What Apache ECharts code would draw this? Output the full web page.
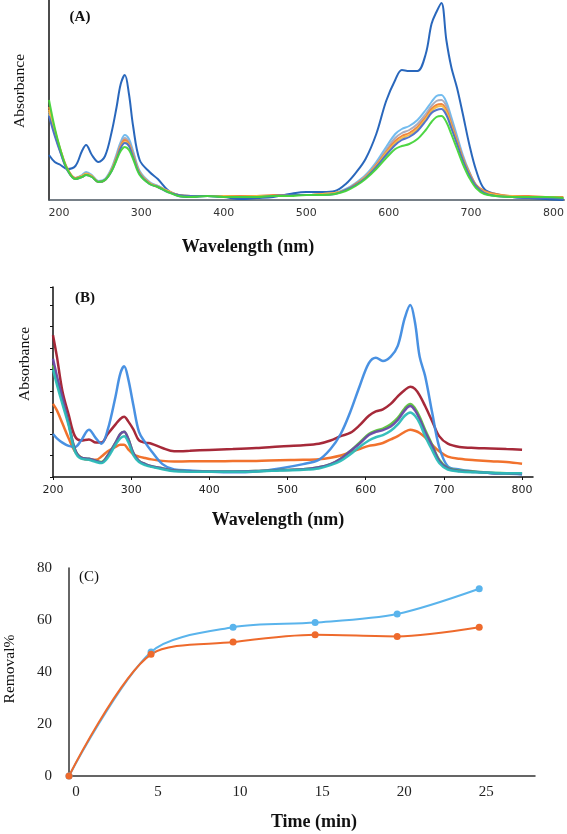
<!DOCTYPE html>
<html><head><meta charset="utf-8">
<script src="https://cdn.jsdelivr.net/npm/echarts@6/dist/echarts.min.js"></script>
<style>html,body{margin:0;padding:0;background:#fff}#c{width:567px;height:834px}</style>
</head><body><div id="c"></div>
<script>
// ---------- Panel A ----------
const wlA = [188,195,202,210,220,228,233,240,248,256,264,270,275,280,285,290,298,310,320,332,345,360,380,400,420,440,460,480,500,520,535,548,560,572,585,597,608,616,625,635,645,652,658,664,670,676,683,690,698,706,716,730,750,770,790,812];
const aDarkBlue = [0.45,0.38,0.35,0.31,0.34,0.49,0.55,0.45,0.38,0.44,0.68,0.93,1.16,1.25,1.06,0.74,0.40,0.28,0.21,0.10,0.04,0.03,0.04,0.03,0.01,0.02,0.03,0.06,0.08,0.08,0.09,0.16,0.27,0.41,0.66,0.99,1.20,1.30,1.29,1.29,1.46,1.76,1.88,1.97,1.60,1.33,1.12,0.86,0.55,0.30,0.11,0.06,0.03,0.02,0.01,0.00];
const aLightBlue = [0.86,0.66,0.48,0.31,0.22,0.25,0.28,0.25,0.19,0.21,0.32,0.46,0.58,0.65,0.61,0.49,0.29,0.18,0.14,0.09,0.05,0.04,0.04,0.04,0.03,0.04,0.04,0.05,0.05,0.06,0.07,0.11,0.17,0.25,0.38,0.53,0.66,0.71,0.74,0.80,0.90,0.98,1.04,1.05,0.98,0.83,0.64,0.45,0.28,0.15,0.08,0.05,0.03,0.03,0.02,0.02];
const aGray = [0.88,0.67,0.48,0.31,0.21,0.24,0.27,0.24,0.18,0.20,0.31,0.44,0.56,0.62,0.58,0.47,0.28,0.17,0.14,0.09,0.05,0.04,0.04,0.04,0.03,0.04,0.04,0.05,0.05,0.06,0.07,0.10,0.16,0.24,0.36,0.50,0.62,0.67,0.70,0.76,0.86,0.94,0.99,1.00,0.94,0.79,0.61,0.43,0.27,0.15,0.08,0.05,0.03,0.03,0.02,0.02];
const aOrange = [0.93,0.70,0.50,0.32,0.22,0.24,0.26,0.24,0.18,0.20,0.30,0.43,0.54,0.60,0.56,0.45,0.27,0.17,0.13,0.09,0.05,0.04,0.04,0.04,0.04,0.04,0.05,0.05,0.05,0.06,0.07,0.10,0.16,0.23,0.35,0.48,0.59,0.64,0.67,0.73,0.83,0.91,0.95,0.96,0.90,0.76,0.59,0.42,0.27,0.15,0.09,0.06,0.04,0.04,0.03,0.03];
const aYellow = [0.90,0.68,0.49,0.31,0.21,0.24,0.26,0.24,0.18,0.20,0.30,0.42,0.53,0.58,0.55,0.44,0.27,0.17,0.13,0.09,0.05,0.04,0.04,0.04,0.03,0.04,0.04,0.05,0.05,0.06,0.07,0.10,0.15,0.23,0.34,0.47,0.57,0.62,0.65,0.71,0.81,0.89,0.93,0.94,0.88,0.74,0.57,0.41,0.26,0.14,0.08,0.05,0.04,0.03,0.03,0.02];
const aBlue = [0.84,0.64,0.47,0.30,0.21,0.23,0.25,0.23,0.18,0.20,0.29,0.41,0.52,0.57,0.54,0.43,0.26,0.16,0.13,0.08,0.05,0.04,0.04,0.03,0.03,0.03,0.04,0.05,0.05,0.05,0.06,0.10,0.15,0.22,0.33,0.45,0.55,0.60,0.63,0.69,0.79,0.87,0.90,0.91,0.85,0.72,0.56,0.40,0.25,0.14,0.07,0.04,0.03,0.02,0.02,0.01];
const aGreen = [1.00,0.72,0.50,0.31,0.21,0.23,0.25,0.23,0.18,0.20,0.29,0.40,0.49,0.53,0.50,0.41,0.25,0.16,0.13,0.08,0.04,0.03,0.04,0.03,0.03,0.03,0.04,0.04,0.05,0.05,0.06,0.09,0.14,0.21,0.31,0.42,0.51,0.54,0.56,0.61,0.70,0.78,0.83,0.84,0.78,0.66,0.51,0.36,0.22,0.12,0.06,0.04,0.03,0.03,0.03,0.02];
const ticksWl = [200,300,400,500,600,700,800];

// ---------- Panel B ----------
const wlB = [200,205,212,220,228,236,246,255,262,270,280,286,291,296,303,310,318,326,340,355,375,400,430,460,490,520,540,555,568,580,592,604,613,622,632,641,650,657,663,669,676,685,694,705,720,740,760,780,800];
const bBlue = [0.20,0.18,0.16,0.145,0.14,0.17,0.22,0.18,0.155,0.22,0.375,0.48,0.515,0.46,0.33,0.21,0.16,0.12,0.06,0.035,0.03,0.025,0.022,0.026,0.04,0.06,0.08,0.13,0.20,0.30,0.42,0.53,0.555,0.54,0.56,0.61,0.74,0.80,0.72,0.56,0.47,0.30,0.14,0.05,0.035,0.025,0.018,0.016,0.012];
const bDarkRed = [0.66,0.56,0.40,0.29,0.19,0.17,0.175,0.16,0.16,0.20,0.245,0.27,0.28,0.26,0.22,0.17,0.16,0.155,0.135,0.12,0.122,0.126,0.13,0.135,0.142,0.148,0.155,0.17,0.19,0.205,0.24,0.285,0.305,0.315,0.34,0.375,0.405,0.42,0.41,0.38,0.33,0.26,0.19,0.155,0.14,0.135,0.133,0.13,0.127];
const bOrange = [0.34,0.31,0.25,0.18,0.12,0.09,0.08,0.08,0.095,0.12,0.14,0.15,0.15,0.13,0.105,0.095,0.088,0.082,0.075,0.072,0.073,0.073,0.074,0.075,0.078,0.08,0.083,0.09,0.10,0.115,0.13,0.145,0.15,0.158,0.175,0.19,0.21,0.22,0.215,0.205,0.185,0.15,0.12,0.095,0.085,0.078,0.073,0.07,0.062];
const bGreen = [0.52,0.45,0.36,0.25,0.13,0.09,0.085,0.075,0.07,0.10,0.16,0.20,0.21,0.18,0.11,0.075,0.06,0.05,0.04,0.03,0.027,0.026,0.026,0.028,0.032,0.036,0.045,0.06,0.085,0.12,0.16,0.20,0.215,0.225,0.245,0.275,0.32,0.34,0.32,0.28,0.22,0.15,0.08,0.042,0.03,0.025,0.02,0.018,0.016];
const bPurple = [0.55,0.47,0.37,0.25,0.13,0.09,0.085,0.075,0.068,0.10,0.16,0.20,0.21,0.18,0.11,0.075,0.06,0.05,0.04,0.03,0.027,0.026,0.026,0.028,0.032,0.036,0.045,0.06,0.085,0.12,0.155,0.195,0.21,0.218,0.235,0.265,0.31,0.33,0.31,0.27,0.21,0.145,0.075,0.04,0.028,0.023,0.019,0.017,0.015];
const bTeal = [0.50,0.43,0.34,0.24,0.12,0.085,0.08,0.07,0.065,0.09,0.15,0.18,0.19,0.165,0.10,0.07,0.055,0.047,0.036,0.027,0.025,0.024,0.024,0.026,0.03,0.034,0.04,0.055,0.075,0.105,0.14,0.17,0.185,0.195,0.215,0.245,0.285,0.30,0.285,0.25,0.19,0.125,0.065,0.035,0.026,0.022,0.02,0.018,0.018];

// ---------- Panel C ----------
const timeMin = [0,5,10,15,20,25];
const removalBlue = [0,47.7,57.2,59.0,62.3,72.0];
const removalOrange = [0,46.8,51.5,54.3,53.7,57.2];
const ticksTime = [0,5,10,15,20,25];
const ticksRemoval = [0,20,40,60,80];

const pair = (xs, ys) => xs.map((x, i) => [x, ys[i]]);
const SERIF = '"Liberation Serif","Times New Roman",serif';

function specLine(name, xIdx, xs, ys, color, w) {
  return { name, type: 'line', xAxisIndex: xIdx, yAxisIndex: xIdx, data: pair(xs, ys),
    smooth: 0.35, showSymbol: false, symbol: 'none',
    lineStyle: { color, width: w, opacity: 0.95 }, itemStyle: { color }, z: 2 };
}

function txt(text, x, y, font, rot) {
  return { type: 'text', x, y, rotation: rot, silent: true,
    style: { text, font, fill: '#111', x: 0, y: 0, align: 'center', verticalAlign: 'middle',
      textAlign: 'center', textVerticalAlign: 'middle' } };
}

const chart = echarts.init(document.getElementById('c'), null, { renderer: 'canvas' });

const option = {
  backgroundColor: '#ffffff',
  animation: false,
  grid: [
    { left: 49, top: 0, width: 518, height: 200 },
    { left: 53, top: 287, width: 480, height: 190 },
    { left: 69, top: 568, width: 466, height: 208 }
  ],
  xAxis: [
    { gridIndex: 0, type: 'value', min: 188, max: 813,
      axisLine: { show: true, lineStyle: { color: '#4a5560', width: 1.5 } },
      axisTick: { show: false }, splitLine: { show: false },
      axisLabel: { customValues: ticksWl, formatter: v => String(v), color: '#333', fontSize: 11,
        fontFamily: 'DejaVu Sans', margin: 8, showMinLabel: true, showMaxLabel: true } },
    { gridIndex: 1, type: 'value', min: 200, max: 814,
      axisLine: { show: true, lineStyle: { color: '#111', width: 1.5 } },
      axisTick: { show: true, customValues: ticksWl, length: 3, lineStyle: { color: '#111' } },
      splitLine: { show: false },
      axisLabel: { customValues: ticksWl, formatter: v => String(v), color: '#222', fontSize: 11,
        fontFamily: 'DejaVu Sans', margin: 8 } },
    { gridIndex: 2, type: 'value', min: 0, max: 28.4,
      axisLine: { show: true, lineStyle: { color: '#333', width: 1.5 } },
      axisTick: { show: false }, splitLine: { show: false },
      axisLabel: { customValues: ticksTime, formatter: v => String(v), color: '#222', fontSize: 15,
        fontFamily: SERIF, margin: 9, padding: [0, 0, 0, 14] } }
  ],
  yAxis: [
    { gridIndex: 0, type: 'value', min: 0, max: 2.0,
      axisLine: { show: true, lineStyle: { color: '#111', width: 1.5 } },
      axisTick: { show: false }, axisLabel: { show: false }, splitLine: { show: false } },
    { gridIndex: 1, type: 'value', min: 0, max: 0.884, interval: 0.1,
      axisLine: { show: true, lineStyle: { color: '#111', width: 1.5 } },
      axisTick: { show: true, length: 3, lineStyle: { color: '#111' } },
      axisLabel: { show: false }, splitLine: { show: false } },
    { gridIndex: 2, type: 'value', min: 0, max: 80, interval: 20,
      axisLine: { show: true, lineStyle: { color: '#333', width: 1.5 } },
      axisTick: { show: false }, splitLine: { show: false },
      axisLabel: { formatter: v => (ticksRemoval.indexOf(v) >= 0 ? String(v) : ''), color: '#222', fontSize: 15,
        fontFamily: SERIF, margin: 17 } }
  ],
  series: [
    specLine('A dark blue', 0, wlA, aDarkBlue, '#1d5fb8', 2),
    specLine('A light blue', 0, wlA, aLightBlue, '#6cb8ee', 2),
    specLine('A gray', 0, wlA, aGray, '#a8a8b8', 2),
    specLine('A orange', 0, wlA, aOrange, '#f08035', 2),
    specLine('A yellow', 0, wlA, aYellow, '#f5b945', 2),
    specLine('A blue', 0, wlA, aBlue, '#4a6ec8', 2),
    specLine('A green', 0, wlA, aGreen, '#44d43a', 2),
    specLine('B orange', 1, wlB, bOrange, '#f06a22', 2.5),
    specLine('B dark red', 1, wlB, bDarkRed, '#a11d2e', 2.5),
    specLine('B blue', 1, wlB, bBlue, '#3f8be0', 2.5),
    specLine('B green', 1, wlB, bGreen, '#5cc43a', 2.5),
    specLine('B purple', 1, wlB, bPurple, '#6a48a8', 2.5),
    specLine('B teal', 1, wlB, bTeal, '#2cbcb8', 2.5),
    { name: 'C blue', type: 'line', xAxisIndex: 2, yAxisIndex: 2, data: pair(timeMin, removalBlue),
      smooth: 0.3, symbol: 'circle', symbolSize: 7, lineStyle: { color: '#5ab4ec', width: 2 },
      itemStyle: { color: '#5ab4ec' } },
    { name: 'C orange', type: 'line', xAxisIndex: 2, yAxisIndex: 2, data: pair(timeMin, removalOrange),
      smooth: 0.3, symbol: 'circle', symbolSize: 7, lineStyle: { color: '#ee6a2c', width: 2 },
      itemStyle: { color: '#ee6a2c' } }
  ],
  graphic: [
    txt('(A)', 80, 17, 'bold 15px ' + SERIF, 0),
    txt('Absorbance', 20, 91, '15.5px ' + SERIF, Math.PI / 2),
    txt('Wavelength (nm)', 248, 247, 'bold 18px ' + SERIF, 0),
    txt('(B)', 85, 298, 'bold 15px ' + SERIF, 0),
    txt('Absorbance', 25, 364, '15.5px ' + SERIF, Math.PI / 2),
    txt('Wavelength (nm)', 278, 520, 'bold 18px ' + SERIF, 0),
    txt('(C)', 89, 577, '15px ' + SERIF, 0),
    txt('Removal%', 10, 669, '15.5px ' + SERIF, Math.PI / 2),
    txt('Time (min)', 314, 822, 'bold 18px ' + SERIF, 0)
  ]
};

chart.setOption(option);
</script>
</body></html>
